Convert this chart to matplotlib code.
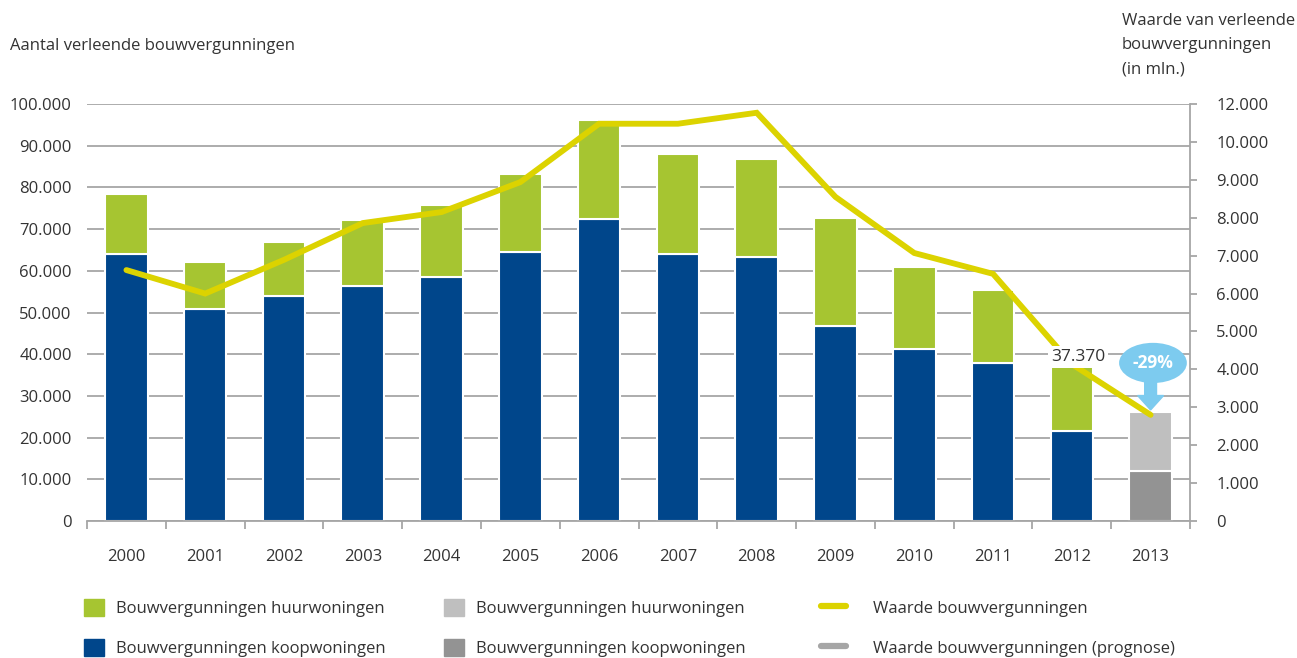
import numpy as np
import matplotlib as mpl
mpl.use('Agg')
import matplotlib.pyplot as plt
from matplotlib.patches import Patch, Ellipse
from matplotlib.lines import Line2D

plt.rcParams['font.family'] = ['Open Sans', 'DejaVu Sans']
plt.rcParams['font.size'] = 12

#### data
years = ['2000', '2001', '2002', '2003', '2004', '2005', '2006',
         '2007', '2008', '2009', '2010', '2011', '2012', '2013']
koop = [64000, 50800, 54000, 56400, 58500, 64500, 72400,
        64000, 63300, 46800, 41200, 37900, 21600, 12000]
huur = [14400, 11300, 12900, 15800, 17300, 18700, 23800,
        24000, 23500, 25900, 19700, 17500, 15770, 14100]
waarde = [6620, 6000, 6890, 7860, 8150, 8940, 10480,
          10480, 10770, 8550, 7070, 6520, 4140, 2800]
prognose = [False]*13 + [True]
left_ticks = np.arange(0, 100001, 10000)
right_ticks = np.arange(0, 11001, 1000)
right_labels = ['0', '1.000', '2.000', '3.000', '4.000', '5.000', '6.000',
                '7.000', '8.000', '9.000', '10.000', '12.000']
change_label = '-29%'

green = '#a6c531'
blue = '#00468b'
lgrey = '#bfbfbf'
dgrey = '#939393'
yellow = '#dcd300'
bubble = '#7dcbef'
txt = '#333333'
gridc = '#a6a6a6'

def fmt(v):
    return f'{v:,.0f}'.replace(',', '.')

#### create figure
fig = plt.figure(figsize=(12.97, 6.58), dpi=100)
ax = fig.add_axes([0.0671, 0.2082, 0.8504, 0.6337])
ax2 = ax.twinx()

x = np.arange(len(years))
c_koop = [dgrey if p else blue for p in prognose]
c_huur = [lgrey if p else green for p in prognose]
ax.bar(x, koop, width=0.54, color=c_koop, edgecolor='white', linewidth=1.5, zorder=2)
ax.bar(x, huur, bottom=koop, width=0.54, color=c_huur, edgecolor='white', linewidth=1.5, zorder=2)

ax.set_xlim(-0.5, len(years) - 0.5)
ax.set_ylim(0, 100000)
ax.set_yticks(left_ticks)
ax.set_yticklabels([fmt(v) for v in left_ticks])
ax.grid(axis='y', color=gridc, linewidth=1.3, zorder=0)
ax.set_axisbelow(True)
ax.set_xticks(x)
ax.set_xticklabels(years)
ax.set_xticks(np.arange(len(years) + 1) - 0.5, minor=True)
ax.tick_params(axis='x', which='major', length=0, pad=20, labelcolor=txt, labelsize=12)
ax.tick_params(axis='x', which='minor', length=6, color=gridc, width=1.3)
ax.tick_params(axis='y', length=0, pad=11, labelcolor=txt, labelsize=12)
for s in ['top', 'right', 'left']:
    ax.spines[s].set_visible(False)
ax.spines['bottom'].set_color(gridc)
ax.spines['bottom'].set_linewidth(1.3)

#### value line on right axis
ax2.plot(x, waarde, color=yellow, linewidth=4.2, solid_capstyle='round',
         solid_joinstyle='miter', zorder=3)
ax2.set_ylim(0, 11000)
ax2.set_yticks(right_ticks)
ax2.set_yticklabels(right_labels)
ax2.tick_params(axis='y', length=5, color=gridc, width=1.3, pad=14,
                labelcolor=txt, labelsize=12)
for s in ['top', 'left', 'bottom']:
    ax2.spines[s].set_visible(False)
ax2.spines['right'].set_color(gridc)
ax2.spines['right'].set_linewidth(1.3)

#### annotations
tot12 = koop[12] + huur[12]
ax2.text(12.08, 39300, fmt(tot12), transform=ax.transData, ha='center', va='center',
         color=txt, fontsize=12.5, zorder=5,
         bbox=dict(facecolor='white', edgecolor='none', pad=2))
ax2.add_patch(Ellipse((13.03, 4170), 0.86, 1060, facecolor=bubble, edgecolor='none', zorder=6))
ax2.arrow(13.0, 3800, 0, -(3800 - 2930), width=0.15, head_width=0.33,
          head_length=380, length_includes_head=True, color=bubble, zorder=6)
ax2.text(13.03, 4170, change_label, ha='center', va='center', color='white',
         fontsize=12.5, fontweight='bold', zorder=7)

#### axis titles
fig.text(10/1297, 1 - 46/658, 'Aantal verleende bouwvergunningen', ha='left', va='center',
         color=txt, fontsize=12)
fig.text(1122/1297, 1 - 45/658, 'Waarde van verleende\nbouwvergunningen\n(in mln.)',
         ha='left', va='center', color=txt, fontsize=12, linespacing=1.68)

#### legends
kw = dict(frameon=False, fontsize=12, labelcolor=txt, handletextpad=0.7,
          labelspacing=1.3, loc='upper left', borderaxespad=0, borderpad=0)
leg1 = fig.legend(handles=[Patch(color=green, label='Bouwvergunningen huurwoningen'),
                           Patch(color=blue, label='Bouwvergunningen koopwoningen')],
                  bbox_to_anchor=(84/1297, 1 - 599/658), handlelength=1.2, handleheight=1.2, **kw)
leg2 = fig.legend(handles=[Patch(color=lgrey, label='Bouwvergunningen huurwoningen'),
                           Patch(color=dgrey, label='Bouwvergunningen koopwoningen')],
                  bbox_to_anchor=(444/1297, 1 - 599/658), handlelength=1.2, handleheight=1.2, **kw)
leg3 = fig.legend(handles=[Line2D([], [], color=yellow, lw=4.5, solid_capstyle='round',
                                  label='Waarde bouwvergunningen'),
                           Line2D([], [], color='#a6a6a6', lw=4.5, solid_capstyle='round',
                                  label='Waarde bouwvergunningen (prognose)')],
                  bbox_to_anchor=(821/1297, 1 - 599/658), handlelength=1.5, handleheight=1.2,
                  handletextpad=1.6, **{k: v for k, v in kw.items() if k != 'handletextpad'})

fig.savefig('out.png', dpi=100)
plt.close()
